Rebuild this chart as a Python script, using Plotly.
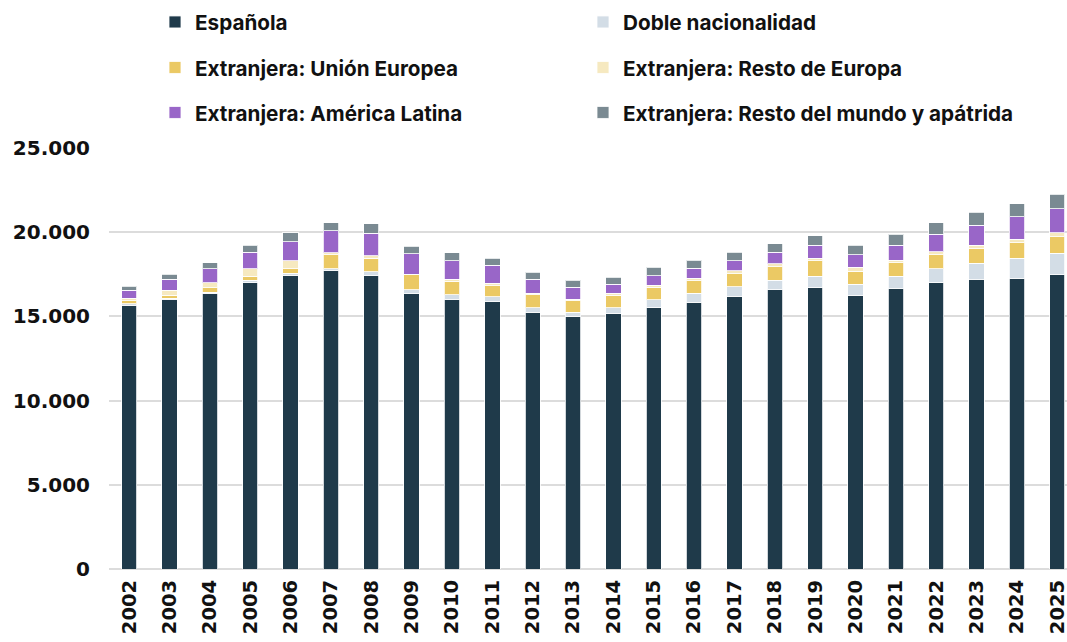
import plotly.graph_objects as go

years = [str(y) for y in range(2002, 2026)]

espanola = [15660, 16015, 16350, 17000, 17420, 17700, 17420, 16350, 16015, 15870, 15240, 14980,
            15160, 15520, 15855, 16210, 16570, 16700, 16230, 16645, 16985, 17200, 17260, 17480]
doble = [80, 77, 80, 140, 140, 140, 218, 218, 257, 297, 277, 257,
         356, 455, 515, 554, 574, 693, 693, 752, 851, 970, 1207, 1267]
ue = [200, 178, 257, 257, 277, 830, 812, 910, 812, 653, 772, 693,
      752, 752, 752, 772, 812, 910, 772, 792, 831, 851, 910, 990]
resto_europa = [150, 297, 297, 436, 475, 100, 158, 40, 119, 139, 80, 100,
                100, 119, 158, 178, 158, 139, 218, 139, 158, 218, 198, 218]
america_latina = [460, 635, 851, 970, 1128, 1306, 1326, 1188, 1108, 1069, 831, 693,
                  534, 554, 574, 594, 693, 772, 752, 891, 1049, 1168, 1346, 1445]
resto_mundo = [240, 297, 337, 436, 515, 495, 574, 455, 455, 436, 436, 436,
               436, 515, 495, 515, 495, 574, 554, 653, 693, 792, 772, 851]

series_names = ["Española", "Doble nacionalidad", "Extranjera: Unión Europea",
                "Extranjera: Resto de Europa", "Extranjera: América Latina",
                "Extranjera: Resto del mundo y apátrida"]
series_values = [espanola, doble, ue, resto_europa, america_latina, resto_mundo]
series_colors = ["#1f3a4a", "#d3dde6", "#ebc964", "#f6e9c0", "#9966c8", "#7a8a92"]

W, H = 1067, 642

legend_font = dict(family="Inter, Roboto, sans-serif", size=20.7, color="#111111", weight="bold")
col_x = [155, 583]
row_y = [22, 67.5, 112.5]

fig = go.Figure()
layout_legends = {}
for i, (name, vals, color) in enumerate(zip(series_names, series_values, series_colors)):
    key = "legend" if i == 0 else f"legend{i + 1}"
    fig.add_trace(go.Bar(
        x=years, y=vals, name=name, legend=key, showlegend=True,
        marker=dict(color=color, line=dict(color="rgba(255,255,255,0.8)", width=1)),
        width=0.38,
    ))
    layout_legends[key] = dict(
        orientation="h", xref="container", yref="container",
        xanchor="left", yanchor="middle",
        x=col_x[i % 2] / W, y=1 - row_y[i // 2] / H,
        font=legend_font, bgcolor="rgba(0,0,0,0)", borderwidth=0,
    )

fig.update_layout(
    barmode="stack",
    showlegend=True,
    width=W, height=H,
    margin=dict(l=109, r=0, t=148, b=H - 569, autoexpand=False),
    plot_bgcolor="white", paper_bgcolor="white",
    **layout_legends,
    xaxis=dict(
        type="category", range=[-0.5, 23.24], tickangle=-90,
        tickfont=dict(family="DejaVu Sans", size=19.5, color="#111111", weight="bold"),
        showgrid=False, showline=False, ticks="", ticklabelstandoff=6,
    ),
    yaxis=dict(
        range=[0, 25000], tickvals=[0, 5000, 10000, 15000, 20000, 25000],
        ticktext=["0", "5.000", "10.000", "15.000", "20.000", "25.000"],
        tickfont=dict(family="DejaVu Sans", size=20, color="#111111", weight="bold"),
        showgrid=True, gridcolor="#dcdcdc", gridwidth=1.5,
        zeroline=True, zerolinecolor="#dcdcdc", zerolinewidth=1.5,
        showline=False, ticks="", ticklabelstandoff=18,
    ),
)

fig.write_html(
    "out.html",
    config={"displayModeBar": False},
    post_script="document.body.style.margin='0';document.body.style.overflow='hidden';",
)
